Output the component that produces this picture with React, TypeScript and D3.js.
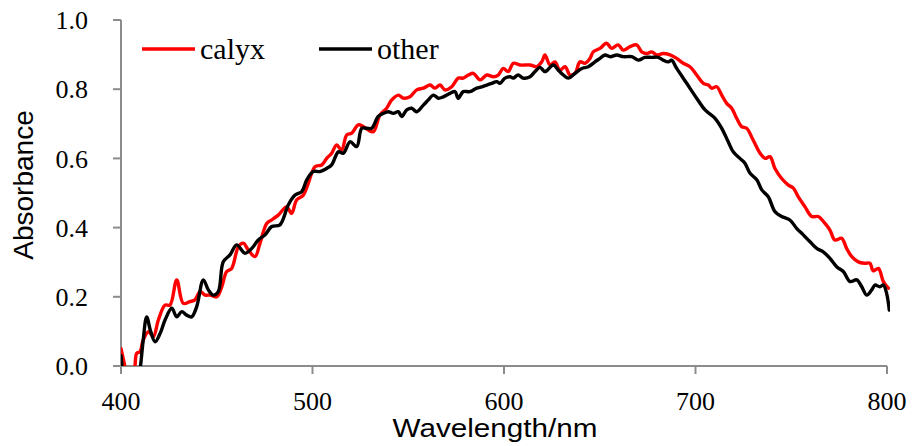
import React from "react";
import * as d3 from "d3";

const xTicks = [400, 500, 600, 700, 800];
const yTicks = [0, 0.2, 0.4, 0.6, 0.8, 1.0];
const xTitle = "Wavelength/nm";
const yTitle = "Absorbance";
const seriesNames = ["calyx", "other"];

const calyxWl = [400, 402, 404, 406, 407.3, 408.2, 409.9, 411.6, 414.3, 416.9, 419.5, 423.0, 425.6, 429.1, 432.5, 436.0, 438.6, 441.3, 443.9, 446.5, 450.0, 452.6, 455.2, 457.8, 461.3, 463.9, 466.5, 470.0, 472.6, 476.1, 478.7, 482.1, 486.5, 489.1, 491.7, 495.2, 497.8, 501.3, 504.8, 507.4, 510.0, 512.6, 515.2, 517.9, 520.5, 523.9, 526.5, 529.1, 531.8, 535.2, 538.7, 541.4, 544.8, 547.4, 550.9, 554.4, 557.9, 561.4, 564.0, 566.6, 569.2, 572.7, 576.1, 578.7, 581.4, 584.0, 587.5, 591.0, 594.4, 597.0, 599.6, 602.2, 604.9, 608.4, 613.6, 617.1, 619.7, 621.4, 624.0, 626.6, 629.2, 631.9, 634.5, 637.1, 639.7, 642.3, 644.9, 646.6, 650.1, 653.6, 656.2, 659.6, 662.3, 665.8, 669.3, 671.9, 674.5, 677.1, 679.7, 683.1, 686.7, 690.2, 693.6, 697.1, 700.6, 704.1, 706.7, 708.4, 711.1, 713.7, 716.3, 718.9, 721.5, 724.1, 726.7, 730.1, 733.7, 736.3, 738.9, 741.5, 745.0, 748.5, 751.1, 753.7, 757.2, 760.7, 764.1, 767.6, 770.2, 772.8, 776.3, 778.9, 781.6, 785.0, 788.5, 791.1, 792.8, 795.5, 798.1, 800.7];
const calyxAbs = [0.05, 0.0, -0.05, -0.05, 0.0, 0.037, 0.041, 0.075, 0.099, 0.085, 0.133, 0.176, 0.176, 0.249, 0.181, 0.186, 0.191, 0.215, 0.205, 0.205, 0.200, 0.229, 0.273, 0.282, 0.345, 0.355, 0.335, 0.316, 0.355, 0.412, 0.422, 0.436, 0.460, 0.441, 0.480, 0.494, 0.528, 0.576, 0.581, 0.600, 0.615, 0.639, 0.624, 0.668, 0.673, 0.697, 0.692, 0.682, 0.677, 0.725, 0.745, 0.769, 0.783, 0.774, 0.778, 0.798, 0.803, 0.812, 0.803, 0.812, 0.798, 0.807, 0.832, 0.832, 0.841, 0.846, 0.827, 0.841, 0.836, 0.841, 0.860, 0.851, 0.875, 0.870, 0.870, 0.865, 0.879, 0.899, 0.870, 0.879, 0.855, 0.865, 0.841, 0.846, 0.879, 0.875, 0.889, 0.908, 0.918, 0.933, 0.918, 0.928, 0.913, 0.923, 0.928, 0.908, 0.903, 0.908, 0.899, 0.903, 0.899, 0.889, 0.875, 0.865, 0.841, 0.817, 0.812, 0.803, 0.807, 0.783, 0.759, 0.745, 0.716, 0.692, 0.687, 0.653, 0.615, 0.600, 0.605, 0.571, 0.542, 0.523, 0.514, 0.489, 0.460, 0.432, 0.432, 0.412, 0.393, 0.364, 0.369, 0.340, 0.316, 0.301, 0.297, 0.297, 0.275, 0.282, 0.244, 0.225];

const otherWl = [400, 401, 403, 408, 409.9, 411.5, 413.4, 415.5, 417.8, 420.5, 423.0, 426.5, 429.1, 431.7, 434.3, 436.9, 439.5, 443.0, 445.6, 448.2, 450.8, 453.4, 456.9, 460.4, 464.8, 468.3, 471.7, 475.2, 478.7, 483.0, 487.4, 490.9, 494.4, 497.0, 500.4, 503.9, 507.4, 510.0, 513.5, 516.1, 519.6, 523.1, 525.7, 528.3, 530.9, 534.3, 537.0, 539.6, 542.2, 544.8, 546.6, 549.2, 551.8, 554.4, 557.9, 560.5, 563.1, 565.7, 568.3, 571.8, 574.4, 576.1, 578.7, 582.2, 585.7, 588.4, 591.0, 593.6, 596.2, 597.9, 600.5, 603.1, 604.8, 607.4, 610.0, 613.6, 616.2, 618.8, 621.4, 625.7, 628.4, 631.0, 633.6, 637.1, 640.6, 644.0, 647.5, 650.1, 652.7, 655.4, 658.9, 662.3, 666.7, 670.2, 673.6, 677.1, 680.6, 683.1, 685.8, 687.5, 690.2, 695.4, 700.6, 705.0, 710.2, 713.7, 717.1, 719.7, 723.2, 725.8, 728.5, 732.0, 734.6, 738.0, 741.5, 745.0, 749.3, 752.8, 756.3, 759.8, 763.3, 766.7, 770.2, 773.7, 777.2, 780.7, 784.2, 786.8, 789.4, 792.0, 793.7, 796.3, 798.1, 799.8, 801.2];
const otherAbs = [0.03, -0.02, -0.06, -0.06, -0.012, 0.07, 0.142, 0.10, 0.070, 0.095, 0.133, 0.167, 0.142, 0.157, 0.147, 0.142, 0.171, 0.249, 0.220, 0.205, 0.215, 0.301, 0.321, 0.350, 0.326, 0.340, 0.364, 0.379, 0.403, 0.408, 0.466, 0.494, 0.504, 0.538, 0.562, 0.562, 0.571, 0.581, 0.619, 0.615, 0.648, 0.634, 0.687, 0.687, 0.687, 0.721, 0.730, 0.735, 0.730, 0.735, 0.721, 0.740, 0.745, 0.735, 0.754, 0.769, 0.783, 0.774, 0.778, 0.788, 0.793, 0.774, 0.793, 0.793, 0.803, 0.807, 0.812, 0.817, 0.822, 0.817, 0.832, 0.836, 0.832, 0.841, 0.832, 0.836, 0.851, 0.863, 0.851, 0.870, 0.855, 0.841, 0.832, 0.846, 0.860, 0.865, 0.879, 0.889, 0.899, 0.894, 0.899, 0.894, 0.894, 0.884, 0.892, 0.892, 0.892, 0.884, 0.879, 0.884, 0.860, 0.817, 0.774, 0.740, 0.716, 0.687, 0.648, 0.619, 0.600, 0.586, 0.557, 0.538, 0.509, 0.489, 0.446, 0.432, 0.422, 0.398, 0.379, 0.359, 0.340, 0.330, 0.311, 0.287, 0.273, 0.244, 0.249, 0.229, 0.205, 0.220, 0.234, 0.229, 0.234, 0.210, 0.162];

const colors = ["#ff0000", "#000000"];

export default function App() {
  const W = 912, H = 446;
  const x = d3.scaleLinear().domain([400, 800]).range([121, 887]);
  const y = d3.scaleLinear().domain([0, 1]).range([366, 20]);
  const axisColor = "#8c8c8c";

  const series = [
    calyxWl.map((w, i) => [w, calyxAbs[i]] as [number, number]),
    otherWl.map((w, i) => [w, otherAbs[i]] as [number, number]),
  ];
  const line = d3
    .line<[number, number]>()
    .x(d => x(d[0]))
    .y(d => y(d[1]))
    .curve(d3.curveCatmullRom.alpha(0.5));

  const serif = "'Liberation Serif', 'Times New Roman', serif";
  const sans = "'Liberation Sans', Arial, sans-serif";

  const legendX = [142, 319];

  return (
    <svg width={W} height={H} style={{ position: "absolute", left: 0, top: 0, background: "#fff" }}>
      <defs>
        <clipPath id="plotclip">
          <rect x={x(400)} y={y(1) - 5} width={x(800) - x(400) + 3} height={y(0) - y(1) + 5} />
        </clipPath>
      </defs>
      {/* axes */}
      <line x1={x(400)} x2={x(400)} y1={y(1)} y2={y(0)} stroke={axisColor} strokeWidth={2} />
      <line x1={x(400) - 8} x2={x(800)} y1={y(0)} y2={y(0)} stroke={axisColor} strokeWidth={2} />
      {yTicks.map(t => (
        <g key={"y" + t}>
          <line x1={x(400) - 8} x2={x(400)} y1={y(t)} y2={y(t)} stroke={axisColor} strokeWidth={2} />
          <text x={88} y={y(t)} dy="0.35em" textAnchor="end" fontFamily={serif} fontSize={26} fill="#000">
            {t.toFixed(1)}
          </text>
        </g>
      ))}
      {xTicks.map(t => (
        <g key={"x" + t}>
          <line x1={x(t)} x2={x(t)} y1={y(0)} y2={y(0) + 8} stroke={axisColor} strokeWidth={2} />
          <text x={x(t)} y={410} textAnchor="middle" fontFamily={serif} fontSize={26} fill="#000">
            {t}
          </text>
        </g>
      ))}
      {/* series */}
      <g clipPath="url(#plotclip)">
        {series.map((s, i) => (
          <path key={i} d={line(s) || ""} fill="none" stroke={colors[i]} strokeWidth={3.4} strokeLinejoin="round" strokeLinecap="round" />
        ))}
      </g>
      {/* legend */}
      {seriesNames.map((n, i) => (
        <g key={n}>
          <line x1={legendX[i]} x2={legendX[i] + 53} y1={49} y2={49} stroke={colors[i]} strokeWidth={3.4} />
          <text x={legendX[i] + 58} y={59} fontFamily={serif} fontSize={30} fill="#000">{n}</text>
        </g>
      ))}
      {/* titles */}
      <text x={495} y={437} textAnchor="middle" fontFamily={sans} fontSize={26} textLength={205} lengthAdjust="spacingAndGlyphs" fill="#000">
        {xTitle}
      </text>
      <text transform="translate(33,185) rotate(-90)" textAnchor="middle" fontFamily={sans} fontSize={28} fill="#000">
        {yTitle}
      </text>
    </svg>
  );
}
